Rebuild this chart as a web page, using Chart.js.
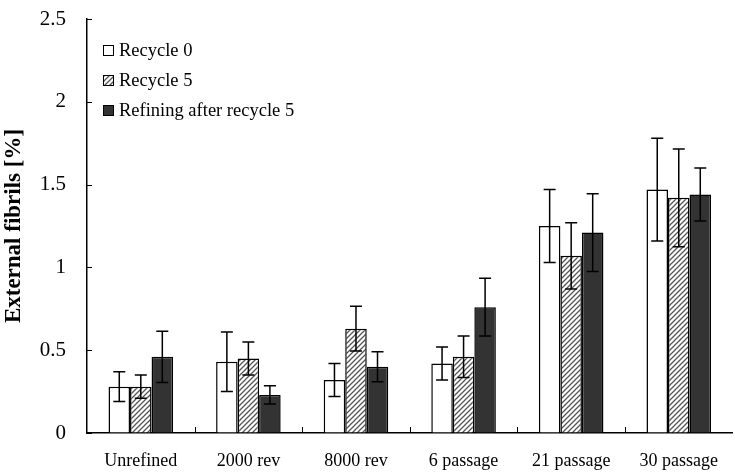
<!DOCTYPE html>
<html lang="en">
<head>
    <meta charset="UTF-8">
    <title>External fibrils</title>
    <script src="https://cdn.jsdelivr.net/npm/chart.js"></script>
    <style>
        body { margin: 0; padding: 0; background: #fff; }
        #wrap { width: 735px; height: 473px; position: relative; }
    </style>
</head>
<body>
    <div id="wrap">
        <canvas id="barGraph"></canvas>
    </div>

    <script>
        // Data
        const categories = ['Unrefined', '2000 rev', '8000 rev', '6 passage', '21 passage', '30 passage'];
        const recycle0 = [0.28, 0.43, 0.32, 0.42, 1.25, 1.47];
        const recycle0Err = [0.09, 0.18, 0.10, 0.10, 0.22, 0.31];
        const recycle5 = [0.28, 0.45, 0.63, 0.46, 1.07, 1.42];
        const recycle5Err = [0.07, 0.10, 0.135, 0.125, 0.20, 0.295];
        const refined = [0.46, 0.23, 0.40, 0.76, 1.21, 1.44];
        const refinedErr = [0.155, 0.055, 0.09, 0.175, 0.235, 0.16];
        const seriesNames = ['Recycle 0', 'Recycle 5', 'Refining after recycle 5'];
        const yTickLabels = ['0', '0.5', '1', '1.5', '2', '2.5'];

        const serif = "'Liberation Serif', 'Times New Roman', serif";

        // diagonal hatch for the recycle 5 bars
        function makeHatch() {
            const c = document.createElement('canvas');
            c.width = 5;
            c.height = 5;
            const g = c.getContext('2d');
            g.fillStyle = '#fff';
            g.fillRect(0, 0, 5, 5);
            g.strokeStyle = '#555';
            g.lineWidth = 1.3;
            g.beginPath();
            g.moveTo(-1, 6); g.lineTo(6, -1);
            g.moveTo(-1, 1); g.lineTo(1, -1);
            g.moveTo(4, 6); g.lineTo(6, 4);
            g.stroke();
            return g.createPattern(c, 'repeat');
        }
        const hatch = makeHatch();

        // error bars, inward ticks and the legend
        const extras = {
            id: 'extras',
            afterDatasetsDraw(chart) {
                const ctx = chart.ctx;
                const y = chart.scales.y;
                ctx.save();
                ctx.strokeStyle = '#000';
                ctx.lineWidth = 1.5;
                chart.data.datasets.forEach((ds, i) => {
                    const meta = chart.getDatasetMeta(i);
                    meta.data.forEach((bar, j) => {
                        const v = ds.data[j], e = ds.errors[j];
                        const top = y.getPixelForValue(v + e);
                        const bot = y.getPixelForValue(v - e);
                        ctx.beginPath();
                        ctx.moveTo(bar.x, top); ctx.lineTo(bar.x, bot);
                        ctx.moveTo(bar.x - 6, top); ctx.lineTo(bar.x + 6, top);
                        ctx.moveTo(bar.x - 6, bot); ctx.lineTo(bar.x + 6, bot);
                        ctx.stroke();
                    });
                });
                ctx.restore();
            },
            afterDraw(chart) {
                const ctx = chart.ctx;
                const area = chart.chartArea;
                const x = chart.scales.x, y = chart.scales.y;
                ctx.save();
                ctx.strokeStyle = '#000';
                ctx.lineWidth = 1;
                ctx.beginPath();
                y.ticks.forEach(t => {
                    const py = Math.round(y.getPixelForValue(t.value)) + 0.5;
                    ctx.moveTo(area.left, py); ctx.lineTo(area.left + 5, py);
                });
                for (let i = 1; i < categories.length; i++) {
                    const px = Math.round((x.getPixelForValue(i - 1) + x.getPixelForValue(i)) / 2) + 0.5;
                    ctx.moveTo(px, area.bottom); ctx.lineTo(px, area.bottom - 6);
                }
                ctx.stroke();

                // legend
                ctx.font = '18.5px ' + serif;
                ctx.textBaseline = 'middle';
                chart.data.datasets.forEach((ds, i) => {
                    const cy = 50 + i * 30;
                    ctx.fillStyle = ds.backgroundColor;
                    ctx.fillRect(103, cy - 5, 10, 10);
                    ctx.strokeStyle = '#000';
                    ctx.lineWidth = 1;
                    ctx.strokeRect(103.5, cy - 4.5, 10, 10);
                    ctx.fillStyle = '#000';
                    ctx.fillText(ds.label, 119, cy + 1);
                });
                ctx.restore();
            }
        };

        function createBarGraph() {
            const ctx = document.getElementById('barGraph').getContext('2d');
            new Chart(ctx, {
                type: 'bar',
                data: {
                    labels: categories,
                    datasets: [
                        { label: seriesNames[0], data: recycle0, errors: recycle0Err, backgroundColor: '#ffffff' },
                        { label: seriesNames[1], data: recycle5, errors: recycle5Err, backgroundColor: hatch },
                        { label: seriesNames[2], data: refined, errors: refinedErr, backgroundColor: '#333333' }
                    ]
                },
                options: {
                    responsive: true,
                    maintainAspectRatio: false,
                    animation: false,
                    layout: { padding: { top: 19, right: 0, left: 0, bottom: 0 } },
                    datasets: {
                        bar: {
                            borderColor: '#000',
                            borderWidth: 1.5,
                            categoryPercentage: 0.6,
                            barPercentage: 1.0
                        }
                    },
                    plugins: {
                        legend: { display: false },
                        tooltip: { enabled: false }
                    },
                    scales: {
                        x: {
                            grid: { drawOnChartArea: false, drawTicks: false },
                            border: { color: '#000', width: 1.5 },
                            ticks: { color: '#000', padding: 17, maxRotation: 0, font: { family: serif, size: 18 } },
                            afterFit: s => { s.height = 40; }
                        },
                        y: {
                            min: 0,
                            max: 2.5,
                            ticks: {
                                stepSize: 0.5,
                                color: '#000',
                                padding: 21,
                                font: { family: serif, size: 21 },
                                callback: (v, i) => yTickLabels[i]
                            },
                            grid: { drawOnChartArea: false, drawTicks: false },
                            border: { color: '#000', width: 1.5 },
                            title: {
                                display: true,
                                text: 'External fibrils [%]',
                                color: '#000',
                                padding: { top: 0, bottom: 0 },
                                font: { family: serif, size: 23, weight: 'bold' }
                            },
                            afterFit: s => {
                                s.width = 87;
                                s.paddingTop = 0;
                                s.paddingBottom = 0;
                            }
                        }
                    }
                },
                plugins: [extras]
            });
        }

        createBarGraph();
    </script>
</body>
</html>
